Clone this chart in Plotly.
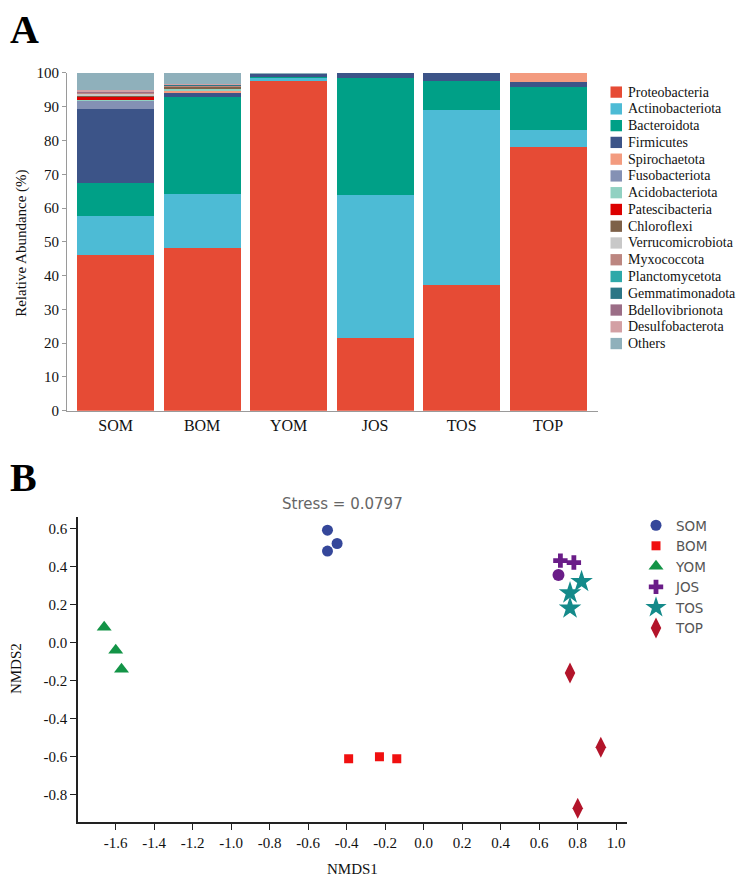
import plotly.graph_objects as go

# ---------------- Panel A data ----------------
samples = ["SOM", "BOM", "YOM", "JOS", "TOS", "TOP"]

proteobacteria    = [46.0, 48.2, 97.7, 21.5, 37.2, 78.0]
actinobacteriota  = [11.7, 16.0, 0.9, 42.5, 51.7, 5.2]
bacteroidota      = [9.8, 28.8, 0.3, 34.6, 8.8, 12.5]
firmicutes        = [21.7, 1.0, 0.9, 1.4, 2.3, 1.7]
spirochaetota     = [0.0, 0.7, 0.0, 0.0, 0.0, 2.6]
fusobacteriota    = [2.7, 0.2, 0.0, 0.0, 0.0, 0.0]
acidobacteriota   = [0.1, 0.5, 0.0, 0.0, 0.0, 0.0]
patescibacteria   = [0.9, 0.1, 0.0, 0.0, 0.0, 0.0]
chloroflexi       = [0.5, 0.4, 0.0, 0.0, 0.0, 0.0]
verrucomicrobiota = [0.4, 0.1, 0.0, 0.0, 0.0, 0.0]
myxococcota       = [0.3, 0.3, 0.0, 0.0, 0.0, 0.0]
planctomycetota   = [0.1, 0.1, 0.0, 0.0, 0.0, 0.0]
gemmatimonadota   = [0.1, 0.1, 0.0, 0.0, 0.0, 0.0]
bdellovibrionota  = [0.2, 0.1, 0.0, 0.0, 0.0, 0.0]
desulfobacterota  = [0.4, 0.2, 0.0, 0.0, 0.0, 0.0]
others            = [5.1, 3.2, 0.2, 0.0, 0.0, 0.0]

phyla = ["Proteobacteria", "Actinobacteriota", "Bacteroidota", "Firmicutes",
         "Spirochaetota", "Fusobacteriota", "Acidobacteriota", "Patescibacteria",
         "Chloroflexi", "Verrucomicrobiota", "Myxococcota", "Planctomycetota",
         "Gemmatimonadota", "Bdellovibrionota", "Desulfobacterota", "Others"]
phyla_values = [proteobacteria, actinobacteriota, bacteroidota, firmicutes,
                spirochaetota, fusobacteriota, acidobacteriota, patescibacteria,
                chloroflexi, verrucomicrobiota, myxococcota, planctomycetota,
                gemmatimonadota, bdellovibrionota, desulfobacterota, others]
phyla_colors = ["#E64B35", "#4DBBD5", "#00A087", "#3C5488", "#F39B7F", "#8491B4",
                "#91D1C2", "#DC0000", "#7E6148", "#C8C8C8", "#BC8680", "#2EA9A9",
                "#2C7686", "#9B6D86", "#D3A0A4", "#8FB0BB"]
a_yticks = [0, 10, 20, 30, 40, 50, 60, 70, 80, 90, 100]

# ---------------- Panel B data ----------------
som_x = [-0.50, -0.45, -0.50]; som_y = [0.59, 0.52, 0.48]
bom_x = [-0.39, -0.23, -0.14]; bom_y = [-0.61, -0.60, -0.61]
yom_x = [-1.66, -1.60, -1.57]; yom_y = [0.08, -0.04, -0.14]
jos_x = [0.71, 0.78, 0.70];    jos_y = [0.43, 0.42, 0.355]
tos_x = [0.82, 0.76, 0.76];    tos_y = [0.32, 0.26, 0.18]
top_x = [0.76, 0.92, 0.80];    top_y = [-0.16, -0.55, -0.87]
b_xticks = [-1.6, -1.4, -1.2, -1.0, -0.8, -0.6, -0.4, -0.2, 0.0, 0.2, 0.4, 0.6, 0.8, 1.0]
b_xticklabels = ["-1.6", "-1.4", "-1.2", "-1.0", "-0.8", "-0.6", "-0.4", "-0.2",
                 "0.0", "0.2", "0.4", "0.6", "0.8", "1.0"]
b_yticks = [0.6, 0.4, 0.2, 0.0, -0.2, -0.4, -0.6, -0.8]
b_yticklabels = ["0.6", "0.4", "0.2", "0.0", "-0.2", "-0.4", "-0.6", "-0.8"]
stress_text = "Stress = 0.0797"

W, H = 744, 891
OFF = 8  # default page body margin in the browser


def px(p):
    return (p - OFF) / W


def py(p):
    return 1 - (p - OFF) / H


SERIF = "Liberation Serif, Times New Roman, serif"
SANS = "DejaVu Sans, Verdana, sans-serif"

fig = go.Figure()

for name, vals, col in zip(phyla, phyla_values, phyla_colors):
    fig.add_trace(go.Bar(x=samples, y=vals, name=name,
                         marker=dict(color=col, line=dict(width=0)),
                         xaxis="x", yaxis="y", showlegend=False))

b_series = [
    ("SOM", som_x, som_y, "circle", 11, "#35479A"),
    ("BOM", bom_x, bom_y, "square", 9, "#F01010"),
    ("YOM", yom_x, yom_y, "triangle-up", 13, "#139447"),
    ("JOS", jos_x, jos_y, ["cross", "cross", "circle"], 12, "#6A1D88"),
    ("TOS", tos_x, tos_y, "star", 17, "#148A8A"),
    ("TOP", top_x, top_y, "diamond-tall", 15, "#B3142A"),
]
for name, xs, ys, sym, size, col in b_series:
    fig.add_trace(go.Scatter(x=xs, y=ys, mode="markers", name=name,
                             marker=dict(symbol=sym, size=size, color=col, line=dict(width=0)),
                             xaxis="x2", yaxis="y2", showlegend=True))

annotations = []
shapes = []
# Panel A legend (compact, as in the original figure)
leg_top = 85.5
leg_step = 17.07
for i, (name, col) in enumerate(zip(phyla, phyla_colors)):
    yc = leg_top + i * leg_step
    shapes.append(dict(type="rect", xref="paper", yref="paper",
                       x0=px(610.5), x1=px(622), y0=py(yc - 5.75), y1=py(yc + 5.75),
                       fillcolor=col, line=dict(width=0)))
    annotations.append(dict(text=name, xref="paper", yref="paper", x=px(626), y=py(yc),
                            xanchor="left", yanchor="middle", showarrow=False,
                            font=dict(family=SERIF, size=14, color="#111")))

annotations += [
    dict(text="<b>A</b>", xref="paper", yref="paper", x=px(8), y=py(22), xanchor="left",
         yanchor="middle", showarrow=False, font=dict(family=SERIF, size=40, color="black")),
    dict(text="<b>B</b>", xref="paper", yref="paper", x=px(8), y=py(478), xanchor="left",
         yanchor="middle", showarrow=False, font=dict(family=SERIF, size=40, color="black")),
    dict(text="Relative Abundance (%)", xref="paper", yref="paper", x=px(22), y=py(240),
         xanchor="center", yanchor="middle", textangle=-90, showarrow=False,
         font=dict(family=SERIF, size=15, color="#111")),
    dict(text="NMDS2", xref="paper", yref="paper", x=px(16), y=py(673),
         xanchor="center", yanchor="middle", textangle=-90, showarrow=False,
         font=dict(family=SERIF, size=15, color="#111")),
    dict(text="NMDS1", xref="paper", yref="paper", x=px(352), y=py(877),
         xanchor="center", yanchor="middle", showarrow=False,
         font=dict(family=SERIF, size=15, color="#111")),
    dict(text=stress_text, xref="paper", yref="paper", x=px(342), y=py(505),
         xanchor="center", yanchor="middle", showarrow=False,
         font=dict(family=SANS, size=15, color="#666")),
]

fig.update_layout(
    width=W, height=H,
    margin=dict(l=0, r=0, t=0, b=0),
    paper_bgcolor="white", plot_bgcolor="white",
    barmode="stack", bargap=0.11,
    xaxis=dict(domain=[px(67), px(598)], anchor="y", range=[-0.562, 5.577],
               showline=True, linecolor="#9a9a9a", linewidth=1, ticks="", showgrid=False,
               zeroline=False, tickfont=dict(family=SERIF, size=16, color="#111")),
    yaxis=dict(domain=[py(410), py(66)], anchor="x", range=[0, 100], tickvals=a_yticks,
               showline=True, linecolor="#9a9a9a", linewidth=1, ticks="outside", ticklen=4,
               tickcolor="#9a9a9a", showgrid=False, zeroline=False,
               tickfont=dict(family=SERIF, size=15, color="#111")),
    xaxis2=dict(domain=[px(78), px(627)], anchor="y2", range=[-1.796, 1.056],
                tickvals=b_xticks, ticktext=b_xticklabels,
                showline=True, linecolor="#222", linewidth=1.5, ticks="outside", ticklen=6,
                tickcolor="#222", showgrid=False, zeroline=False,
                tickfont=dict(family=SERIF, size=15, color="#111")),
    yaxis2=dict(domain=[py(829), py(518)], anchor="x2", range=[-0.944, 0.66],
                tickvals=b_yticks, ticktext=b_yticklabels,
                showline=True, linecolor="#222", linewidth=1.5, ticks="outside", ticklen=6,
                tickcolor="#222", showgrid=False, zeroline=False,
                tickfont=dict(family=SERIF, size=15, color="#111")),
    legend=dict(x=px(636), y=py(511), xanchor="left", yanchor="top", traceorder="normal",
                font=dict(family=SANS, size=13.5, color="#555"),
                bgcolor="rgba(0,0,0,0)", borderwidth=0, tracegroupgap=0),
    annotations=annotations,
    shapes=shapes,
)

fig.write_html("out.html")
